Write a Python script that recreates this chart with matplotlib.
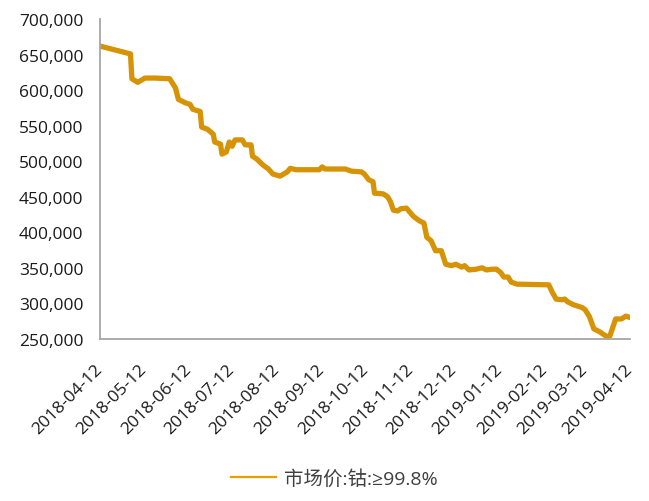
import pandas as pd
import matplotlib.pyplot as plt
import matplotlib.dates as mdates
from matplotlib.lines import Line2D
from matplotlib.ticker import FuncFormatter

plt.rcParams['font.family'] = ['Open Sans', 'Noto Sans CJK SC', 'DejaVu Sans']

# Cobalt (>=99.8%) market price, yuan/ton
dates = [
    '2018-04-12', '2018-05-03', '2018-05-04', '2018-05-08', '2018-05-13', '2018-05-20',
    '2018-05-30', '2018-06-03', '2018-06-05', '2018-06-10', '2018-06-13', '2018-06-15',
    '2018-06-20', '2018-06-21', '2018-06-25', '2018-06-29', '2018-06-30', '2018-07-04',
    '2018-07-05', '2018-07-08', '2018-07-10', '2018-07-12', '2018-07-14', '2018-07-19',
    '2018-07-21', '2018-07-25', '2018-07-26', '2018-07-29', '2018-08-02', '2018-08-06',
    '2018-08-09', '2018-08-14', '2018-08-19', '2018-08-21', '2018-08-25', '2018-09-10',
    '2018-09-12', '2018-09-14', '2018-09-28', '2018-10-02', '2018-10-09', '2018-10-11',
    '2018-10-14', '2018-10-17', '2018-10-18', '2018-10-24', '2018-10-27', '2018-10-29',
    '2018-10-31', '2018-11-03', '2018-11-05', '2018-11-09', '2018-11-11', '2018-11-14',
    '2018-11-18', '2018-11-21', '2018-11-23', '2018-11-26', '2018-11-29', '2018-12-03',
    '2018-12-06', '2018-12-10', '2018-12-13', '2018-12-17', '2018-12-19', '2018-12-22',
    '2018-12-27', '2018-12-31', '2019-01-03', '2019-01-07', '2019-01-10', '2019-01-13',
    '2019-01-15', '2019-01-18', '2019-01-20', '2019-01-24', '2019-02-15', '2019-02-17',
    '2019-02-20', '2019-02-24', '2019-02-26', '2019-02-28', '2019-03-04', '2019-03-10',
    '2019-03-12', '2019-03-15', '2019-03-18', '2019-03-22', '2019-03-27', '2019-03-29',
    '2019-04-02', '2019-04-06', '2019-04-09', '2019-04-12',
]
prices = [
    662000, 651000, 616000, 611000, 617000, 617000,
    616000, 603000, 587000, 582000, 580000, 573000,
    570000, 548000, 545000, 538000, 527000, 524000,
    510000, 513000, 527000, 521000, 530000, 530000,
    523000, 523000, 507000, 503000, 495000, 489000,
    482000, 479000, 485000, 490000, 488000, 488000,
    492000, 489000, 489000, 486000, 485000, 482000,
    474000, 471000, 455000, 454000, 450000, 443000,
    431000, 430000, 433000, 434000, 429000, 422000,
    416000, 413000, 393000, 388000, 374000, 374000,
    355000, 353000, 355000, 351000, 353000, 347000,
    348000, 350000, 347000, 348000, 348000, 343000,
    337000, 337000, 330000, 327000, 326000, 317000,
    306000, 305000, 306000, 302000, 298000, 294000,
    291000, 281000, 264000, 260000, 253000, 254000,
    278000, 278000, 282000, 280000,
]
tick_dates = pd.date_range('2018-04-01', '2019-04-01', freq='MS') + pd.Timedelta(days=11)
label = '市场价:钴:≥99.8%'

df = pd.DataFrame({'date': pd.to_datetime(dates), 'price': prices})

fig = plt.figure(figsize=(6.49, 5.02), dpi=100)
ax = fig.add_axes([0.154, 0.323, 0.817, 0.637])
ax.plot(df['date'], df['price'], color='#D69305', linewidth=3.8,
        solid_joinstyle='round', solid_capstyle='round')

ax.set_ylim(250000, 700000)
ax.set_yticks(range(250000, 700001, 50000))
ax.yaxis.set_major_formatter(FuncFormatter(lambda v, p: f'{int(v):,}'))
ax.set_xlim(pd.Timestamp('2018-04-12'), pd.Timestamp('2019-04-12'))
ax.set_xticks(tick_dates)
ax.xaxis.set_major_formatter(mdates.DateFormatter('%Y-%m-%d'))
plt.setp(ax.get_xticklabels(), rotation=45, ha='right', va='center',
         rotation_mode='anchor')

ax.tick_params(length=0, labelsize=12.5, colors='#1a1a1a')
ax.tick_params(axis='y', pad=12)
ax.tick_params(axis='x', pad=20)
for s in ['top', 'right']:
    ax.spines[s].set_visible(False)
for s in ['left', 'bottom']:
    ax.spines[s].set_color('#A6A6A6')
    ax.spines[s].set_linewidth(1.3)

# legend uses a thin line sample
handle = Line2D([], [], color='#E8A000', linewidth=1.6)
leg = fig.legend([handle], [label], loc='lower center', bbox_to_anchor=(0.515, -0.008),
                 frameon=False, fontsize=14, handlelength=2.3, handletextpad=0.4)
for t in leg.get_texts():
    t.set_color('#404040')

fig.savefig('out.png', dpi=100)
